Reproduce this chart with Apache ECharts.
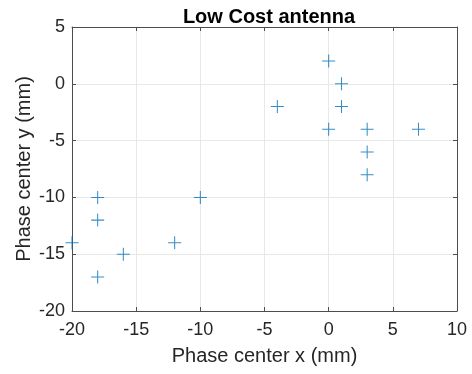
<!DOCTYPE html>
<html>
<head>
<meta charset="utf-8">
<script src="https://cdn.jsdelivr.net/npm/echarts@6/dist/echarts.min.js"></script>
<style>
html,body{margin:0;padding:0;background:#fff;}
#chart{width:472px;height:374px;}
</style>
</head>
<body>
<div id="chart"></div>
<script>
const xValues = [-20, -18, -18, -18, -16, -12, -10, -4, 0, 0, 1, 1, 3, 3, 3, 7];
const yValues = [-14, -10, -12, -17, -15, -14, -10, -2, 2, -4, 0, -2, -4, -6, -8, -4];
const xTicks = [-20, -15, -10, -5, 0, 5, 10];
const yTicks = [-20, -15, -10, -5, 0, 5];

const chart = echarts.init(document.getElementById('chart'));
const font = 'Liberation Sans, Arial, sans-serif';
const plus = 'path://M4.6,0H5.4V4.6H10V5.4H5.4V10H4.6V5.4H0V4.6H4.6Z';

function axisBase(vals, extra) {
    return Object.assign({
        type: 'value',
        min: vals[0],
        max: vals[vals.length - 1],
        interval: vals[1] - vals[0],
        axisLine: {show: true, onZero: false, lineStyle: {color: '#4d4d4d', width: 1}},
        axisTick: {show: true, inside: true, length: 4, lineStyle: {color: '#4d4d4d'}},
        splitLine: {show: false},
        axisLabel: {show: false}
    }, extra);
}

let option = {
    animation: false,
    title: {
        text: 'Low Cost antenna',
        left: 264, top: 2, textAlign: 'center',
        textStyle: {fontFamily: font, fontWeight: 'bold', fontSize: 20, color: '#000'}
    },
    grid: {left: 72, right: 15, top: 27, bottom: 63, containLabel: false},
    xAxis: [
        axisBase(xTicks, {
            position: 'bottom',
            name: 'Phase center x (mm)',
            nameLocation: 'middle', nameGap: 35, nameMoveOverlap: false,
            nameTextStyle: {fontFamily: font, fontSize: 20, color: '#262626'},
            splitLine: {show: true, lineStyle: {color: '#e8e8e8', width: 1}},
            axisLabel: {show: true, fontFamily: font, fontSize: 18, color: '#262626', margin: 10}
        }),
        axisBase(xTicks, {position: 'top'})
    ],
    yAxis: [
        axisBase(yTicks, {
            position: 'left',
            name: 'Phase center y (mm)',
            nameLocation: 'middle', nameGap: 38, nameMoveOverlap: false,
            nameTextStyle: {fontFamily: font, fontSize: 20, color: '#262626'},
            splitLine: {show: true, lineStyle: {color: '#e8e8e8', width: 1}},
            axisLabel: {show: true, fontFamily: font, fontSize: 18, color: '#262626', margin: 7}
        }),
        axisBase(yTicks, {position: 'right'})
    ],
    series: [{
        type: 'scatter',
        symbol: plus,
        symbolSize: 13,
        itemStyle: {color: '#0072BD'},
        data: xValues.map(function (x, i) { return [x, yValues[i]]; })
    }]
};
chart.setOption(option);
</script>
</body>
</html>
